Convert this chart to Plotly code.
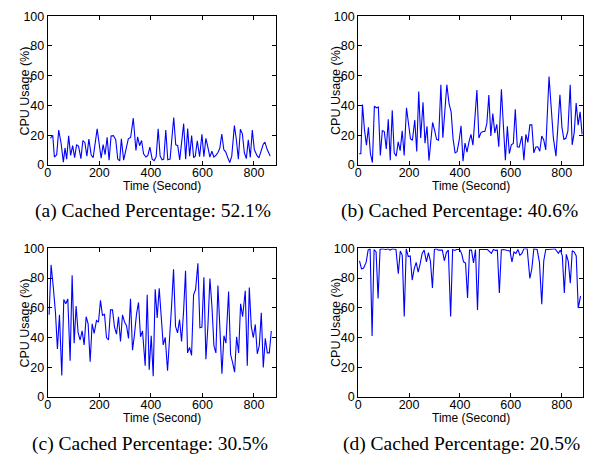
import plotly.graph_objects as go

W, H = 589, 462

# ---------------- data ----------------
# (a) Cached Percentage: 52.1%
a_px = [143,150,155,162,168,175,182,187,192,198,204,210,216,222,228,235,241,247,253,259,266,272,284,291,296,302,308,314,320,326,333,340,346,352,357,364,378,385,393,401,406,412,418,424,431,437,443,450,456,462,468,474,480,485,491,497,504,515,521,527,533,545,551,557,563,569,575,580,586,593,600,606,612,618,624,630,636,642,648,654,660,666,672,678,684,690,698,704,710,716,722,728,734,740,746,752,758,766,772,785,790,797,806]
a_time = [round((p - 135) / 0.7775, 1) for p in a_px]
a_cpu = [18,20,5.4,7,23.5,15,2,11.5,4,19.6,6.5,13,5,13.7,12.6,4.3,16.5,15,6,17.4,6.7,5,24.3,13.7,4.6,13.7,7,18.7,3.3,19.6,19.8,17,4,2.8,17.6,3.3,17.6,18.5,31.5,9.8,19,13,16.5,7.6,5.4,6.5,12,4,3,5.6,24.3,6,3.5,4,23.5,3.5,4,32,13.7,13,3.5,27.8,4,24.5,6,19.8,5,6,16.3,5.6,20.6,5.6,18,12,5.4,9.3,5.4,6.5,8.3,11.3,20.9,10.4,8.7,5,1.7,6,26.5,17,4,24,21,8.3,4.3,17,5.2,23.5,10.4,6.5,4.8,14,15.4,10.4,6]

# (b) Cached Percentage: 40.6%
b_px = [188,193,198,204,210,216,222,228,234,240,246,252,258,264,270,276,282,288,294,300,306,312,318,324,331,337,343,349,356,362,368,374,381,387,393,399,410,416,422,428,435,441,453,460,466,472,478,484,490,496,502,508,514,520,526,532,544,550,556,562,568,574,580,586,592,598,604,610,618,624,630,636,642,648,654,660,666,672,680,686,692,698,704,710,716,722,728,734,740,746,752,762,768,775,783,795,801,807,813,819,826,832,838,844,850,856,862]
b_time = [round((p - 185) / 0.769, 1) for p in b_px]
b_cpu = [7.6,7.6,40.7,23.8,13.4,25.3,7.6,1.7,39.6,38.5,39,6.5,23.2,22.5,10.8,30.7,3.2,36.8,8.2,6,15.6,9.7,23,6.5,38.5,26.4,17.7,16.7,30.3,9.1,49.4,18.2,42.2,14.7,26,3,28.6,23.4,17.3,16.7,54,18.4,54,41,35.7,17.3,8.2,9,16.2,26.4,2.6,14.7,8.7,15.6,20.6,13.4,50.4,18.2,21.6,22.5,22.5,28,47,19.5,34.6,21.6,27.3,12.3,50.9,26.4,3.2,26,7.6,13.6,14.5,37.4,12.3,12.1,19.5,3.2,20.6,15.2,27,27,8.2,12.1,12.3,9.3,19.5,16.9,10.2,59.5,36.8,18.4,6,47.2,25.5,17.3,18,22.7,54,13.6,21.6,41.6,26.8,35.7,20.6]

# (c) Cached Percentage: 30.5%
c_px = [142,148,155,161,167,173,180,186,192,198,205,211,217,223,229,235,241,247,253,259,265,271,277,284,290,296,302,308,314,320,326,332,338,344,350,356,362,368,374,380,386,392,398,404,410,416,422,430,436,442,448,454,460,466,472,478,484,490,497,509,515,521,527,533,539,545,551,557,563,569,575,581,588,594,600,606,612,618,624,630,636,642,648,654,660,666,672,680,686,692,698,704,710,716,722,730,736,742,748,754,760,766,772,778,784,790,796,802,808]
c_time = [round((p - 138) / 0.7725, 1) for p in c_px]
c_cpu = [55.3,88.9,72.8,56.9,32.2,55.3,14.4,65.6,62.7,66,24.4,81.9,36.2,61.2,43.1,38.3,44.4,35,54,49.2,23.7,49.2,42.7,51.4,50.3,65,54.7,55.8,39.9,38.3,58.6,58.6,47,42.3,54,37.3,55.3,50.5,47.9,39.4,66,31.4,42.3,55.8,63.6,40.5,44.4,20.9,68.8,18.3,41.2,13.9,72.5,53.2,73.2,56.2,35,40.1,17.6,61,86,47.5,43.1,52,37.3,57.5,85,29.6,33.3,27.9,68.8,72.3,90,46.6,47,80.6,25.3,47.9,79.7,61.2,34.4,29.6,75,45.8,15.5,41.2,36.2,71,28.5,23.1,16.6,40.5,29.6,62.7,54,71.5,20.9,73.6,47.5,39.9,48.8,29,34.4,56.6,19.8,39.4,29.6,29.6,44.4]

# (d) Cached Percentage: 20.5%
d_px = [190,196,202,210,216,222,228,234,240,246,252,258,270,276,282,290,300,307,313,319,325,331,337,343,349,355,361,367,373,379,385,392,398,404,410,416,422,428,440,446,452,458,465,471,477,483,492,498,504,510,516,522,528,534,540,546,552,562,570,576,588,594,600,606,612,618,624,634,644,650,656,662,668,674,680,686,696,704,710,716,726,733,740,746,752,760,770,780,790,796,802,808,814,820,826,832,838,844,850,857]
d_time = [round((p - 186) / 0.7675, 1) for p in d_px]
d_cpu = [91.7,86.3,86.7,90.6,98.9,99.8,41,99.3,97.6,66.3,99.3,99.8,99.3,99.8,98.9,99.8,99.3,83,98.3,95.4,54.1,99.8,94.6,95,78.7,86.3,90.6,84.1,89.6,96.7,98.9,91,97.2,91.5,73.3,99.3,99.8,98.9,98.9,91.7,97.2,98.9,54.1,99.3,98.7,99.3,99.3,96.7,91,90.2,66.7,98.9,98.9,90.2,99.3,58.5,99.3,99.3,99.3,99.3,96.7,99.3,98.7,98.9,70,99,99.3,98.9,98.3,91,97.6,96.7,99.3,95.4,96.7,99.8,99.8,79.8,86.3,99.8,99.3,90.6,62.4,91.7,99.3,99.3,99.8,99.8,96.7,98.9,95,70,96,91.3,76.5,98.5,97.6,95,59.8,67.8]

captions = ["(a) Cached Percentage: 52.1%", "(b) Cached Percentage: 40.6%",
            "(c) Cached Percentage: 30.5%", "(d) Cached Percentage: 20.5%"]
x_ticks = [0, 200, 400, 600, 800]
y_ticks = [0, 20, 40, 60, 80, 100]
x_title = "Time (Second)"
y_title = "CPU Usage (%)"

series = [(a_time, a_cpu), (b_time, b_cpu), (c_time, c_cpu), (d_time, d_cpu)]

# ---------------- layout (pixel boxes) ----------------
boxes = [(45, 274, 9.5, 163), (357, 583, 9.5, 163),
         (45, 274, 249, 402), (357, 583, 249, 402)]
caption_pos = [(150.5, 210.5), (459, 210.5), (148, 450.5), (461, 450.5)]

def px_x(p):
    return p / W

def px_y(p):
    return 1 - p / H

fig = go.Figure()
annotations = []
sans = "Liberation Sans, Arial, Helvetica, sans-serif"
serif = "Liberation Serif, Times New Roman, serif"

for i, ((t, v), (x0, x1, y0, y1)) in enumerate(zip(series, boxes)):
    n = i + 1
    xa = "x" if n == 1 else f"x{n}"
    ya = "y" if n == 1 else f"y{n}"
    fig.add_trace(go.Scatter(x=t, y=v, mode="lines", xaxis=xa, yaxis=ya,
                             line=dict(color="#0000FF", width=1.1),
                             showlegend=False, hoverinfo="skip"))
    axcommon = dict(showgrid=False, zeroline=False, showline=True, linecolor="black",
                    linewidth=1, mirror="ticks", ticks="inside", ticklen=4,
                    tickcolor="black", tickwidth=1,
                    tickfont=dict(family=sans, size=12.5, color="black"))
    fig.update_layout(**{
        ("xaxis" if n == 1 else f"xaxis{n}"): dict(
            domain=[px_x(x0), px_x(x1)], range=[0, 884], tickvals=x_ticks,
            anchor=ya, ticklabelstandoff=-4, **axcommon),
        ("yaxis" if n == 1 else f"yaxis{n}"): dict(
            domain=[px_y(y1), px_y(y0)], range=[0, 100], tickvals=y_ticks,
            anchor=xa, **axcommon),
    })
    cx = (x0 + x1) / 2
    annotations.append(dict(text=x_title, x=px_x(cx), y=px_y(y1 + 22), xref="paper",
                            yref="paper", showarrow=False,
                            font=dict(family=sans, size=12, color="black"),
                            xanchor="center", yanchor="middle"))
    annotations.append(dict(text=y_title, x=px_x(x0 - 23), y=px_y((y0 + y1) / 2),
                            xref="paper", yref="paper", showarrow=False, textangle=-90,
                            font=dict(family=sans, size=12.5, color="black"),
                            xanchor="center", yanchor="middle"))
    cpx, cpy = caption_pos[i]
    annotations.append(dict(text=captions[i], x=px_x(cpx), y=px_y(cpy),
                            xref="paper", yref="paper", showarrow=False,
                            font=dict(family=serif, size=19.5, color="black"),
                            xanchor="center", yanchor="middle"))

fig.update_layout(width=W, height=H, margin=dict(l=0, r=0, t=0, b=0),
                  paper_bgcolor="white", plot_bgcolor="white",
                  annotations=annotations)

fig.write_html("out.html", config={"displayModeBar": False},
               post_script="document.body.style.margin='0';document.body.style.padding='0';")
